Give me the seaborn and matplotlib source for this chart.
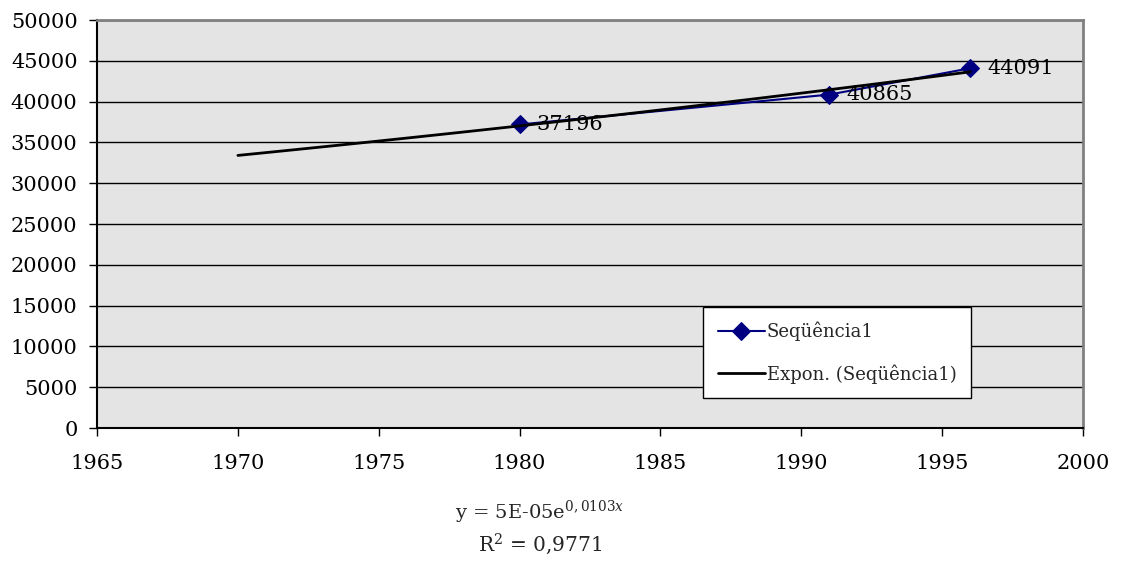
import numpy as np
import pandas as pd
import matplotlib
matplotlib.use("Agg")
import matplotlib.pyplot as plt
import seaborn as sns

# Data
years = [1980, 1991, 1996]
values = [37196, 40865, 44091]
series_name = "Seqüência1"
trend_name = "Expon. (Seqüência1)"
trend_start = 1970
y_ticks = list(range(0, 50001, 5000))
x_ticks = list(range(1965, 2001, 5))
eq_text = r"y = 5E-05e$^{0,0103x}$"
r2_text = r"R$^{2}$ = 0,9771"

sns.set_theme(style="white")
plt.rcParams["font.family"] = ["DejaVu Serif"]
plt.rcParams["mathtext.fontset"] = "dejavuserif"

df = pd.DataFrame({"Ano": years, "Valor": values})

# Exponential trend (least squares on log values, as the spreadsheet does)
b, a = np.polyfit(df["Ano"], np.log(df["Valor"]), 1)
tx = np.linspace(trend_start, max(years), 50)
trend = pd.DataFrame({"Ano": tx, "Valor": np.exp(a + b * tx)})

fig = plt.figure(figsize=(11.23, 5.67), dpi=100)
ax = fig.add_axes([0.0864, 0.2451, 0.8780, 0.7196])
ax.set_facecolor("#e4e4e4")

sns.lineplot(data=df, x="Ano", y="Valor", ax=ax, color="#000080", lw=1.5,
             marker="D", markersize=9, markeredgecolor="#000080",
             label=series_name, zorder=3)
sns.lineplot(data=trend, x="Ano", y="Valor", ax=ax, color="black", lw=2,
             label=trend_name, zorder=4)

for xv, yv in zip(years, values):
    ax.annotate(str(yv), (xv, yv), xytext=(12, 0), textcoords="offset points",
                va="center", ha="left", fontsize=15, color="black", zorder=5)

ax.set_xlim(1965, 2000)
ax.set_ylim(0, 50000)
ax.set_xticks(x_ticks)
ax.set_yticks(y_ticks)
ax.set_xlabel("")
ax.set_ylabel("")
ax.yaxis.grid(True, color="black", lw=1)
ax.xaxis.grid(False)
ax.set_axisbelow(True)
ax.tick_params(axis="both", which="major", labelsize=15, length=6, width=1,
               direction="out", colors="black", pad=8)
ax.tick_params(axis="x", pad=13)
ax.tick_params(left=True, bottom=True)
for s in ["left", "bottom"]:
    ax.spines[s].set_color("black")
    ax.spines[s].set_linewidth(1.5)
for s in ["top", "right"]:
    ax.spines[s].set_color("#808080")
    ax.spines[s].set_linewidth(2)

leg = ax.legend(loc="lower left", bbox_to_anchor=(0.615, 0.073), fontsize=13,
                frameon=True, fancybox=False, edgecolor="black",
                framealpha=1, handlelength=2.6, handletextpad=0.1,
                borderpad=0.8, labelspacing=1.3, borderaxespad=0)
leg.get_frame().set_linewidth(1)

fig.text(0.481, 0.097, eq_text, ha="center", va="center", fontsize=14)
fig.text(0.481, 0.040, r2_text, ha="center", va="center", fontsize=14.5)

fig.savefig("out.png", dpi=100)
